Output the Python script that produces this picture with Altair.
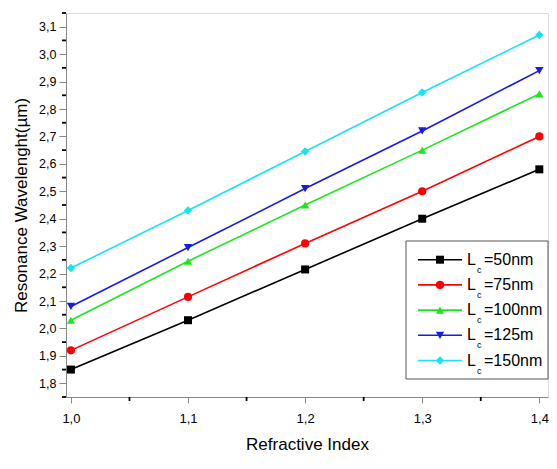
import altair as alt
import pandas as pd

# ---- data ----
refractive_index = [1.0, 1.1, 1.2, 1.3, 1.4]
series_names = ["Lc=50nm", "Lc=75nm", "Lc=100nm", "Lc=125m", "Lc=150nm"]
legend_suffix = ["=50nm", "=75nm", "=100nm", "=125m", "=150nm"]
lc50 = [1.85, 2.03, 2.215, 2.40, 2.58]
lc75 = [1.92, 2.115, 2.31, 2.50, 2.70]
lc100 = [2.03, 2.245, 2.45, 2.65, 2.855]
lc125 = [2.08, 2.295, 2.51, 2.72, 2.94]
lc150 = [2.22, 2.43, 2.645, 2.86, 3.07]
all_series = [lc50, lc75, lc100, lc125, lc150]

x_major = [1.0, 1.1, 1.2, 1.3, 1.4]
x_minor = [1.05, 1.15, 1.25, 1.35]
y_major = [1.8, 1.9, 2.0, 2.1, 2.2, 2.3, 2.4, 2.5, 2.6, 2.7, 2.8, 2.9, 3.0, 3.1]
y_minor = [1.75, 1.85, 1.95, 2.05, 2.15, 2.25, 2.35, 2.45, 2.55, 2.65, 2.75, 2.85,
           2.95, 3.05, 3.15]

rows = []
for name, vals in zip(series_names, all_series):
    for xv, yv in zip(refractive_index, vals):
        rows.append({"n": xv, "wl": yv, "series": name})
df = pd.DataFrame(rows)

colors = ["#000000", "#ff0000", "#1ee61e", "#1a1ae6", "#18e4ee"]
shapes = ["square", "circle", "triangle-up", "triangle-down", "diamond"]
sizes = [64, 72, 100, 100, 110]

color_scale = alt.Scale(domain=series_names, range=colors)
shape_scale = alt.Scale(domain=series_names, range=shapes)
size_scale = alt.Scale(domain=series_names, range=sizes)

FONT = "Liberation Sans"
W, H = 482, 384
label_expr = "replace(format(datum.value, '.1f'), '.', ',')"
xs = alt.Scale(domain=[0.9958, 0.9958 + W / 1171.0], nice=False, zero=False)
ys = alt.Scale(domain=[1.75, 3.15], nice=False, zero=False)

x_axis = alt.Axis(title="Refractive Index", values=x_major, labelExpr=label_expr,
                  grid=False, labelFlush=False, labelOverlap=False, tickSize=6,
                  labelPadding=9, labelFontSize=13, titleFontSize=17,
                  titlePadding=11, titleFontWeight="normal")
y_axis = alt.Axis(title="Resonance Wavelenght(µm)", values=y_major, labelExpr=label_expr,
                  grid=False, labelOverlap=False, labelFlush=False, tickSize=7,
                  labelPadding=3, labelFontSize=12.5, titleFontSize=17,
                  titlePadding=8, titleFontWeight="normal")

lines = alt.Chart(df).mark_line(strokeWidth=1.6).encode(
    x=alt.X("n:Q", scale=xs, axis=x_axis),
    y=alt.Y("wl:Q", scale=ys, axis=y_axis),
    color=alt.Color("series:N", scale=color_scale, legend=None),
    detail="series:N",
)
points = alt.Chart(df).mark_point(filled=True, opacity=1).encode(
    x=alt.X("n:Q", scale=xs, axis=x_axis),
    y=alt.Y("wl:Q", scale=ys, axis=y_axis),
    color=alt.Color("series:N", scale=color_scale, legend=None),
    shape=alt.Shape("series:N", scale=shape_scale, legend=None),
    size=alt.Size("series:N", scale=size_scale, legend=None),
)

# minor ticks (same scales and axis specs as the data layers)
ymin_t = alt.Chart(pd.DataFrame({"wl": y_minor})).mark_rule(color="black", strokeWidth=1.8).encode(
    y=alt.Y("wl:Q", scale=ys, axis=y_axis), x=alt.value(-4), x2=alt.value(0))
xmin_t = alt.Chart(pd.DataFrame({"n": x_minor})).mark_rule(color="black", strokeWidth=1.8).encode(
    x=alt.X("n:Q", scale=xs, axis=x_axis), y=alt.value(H), y2=alt.value(H + 4))

# ---- manual legend (for the subscript c) ----
BX0, BX1, BY0, BY1 = 340, 482, H - 156, H - 18
ROW0, ROWSTEP = H - 137.3, 25.2
one = pd.DataFrame({"k": [0]})
layers = [lines, points, ymin_t, xmin_t,
          alt.Chart(one).mark_rect(fill="white", stroke="#555555", strokeWidth=1).encode(
              x=alt.value(BX0), x2=alt.value(BX1), y=alt.value(BY0), y2=alt.value(BY1))]
for i, (name, suf) in enumerate(zip(series_names, legend_suffix)):
    ry = ROW0 + ROWSTEP * i
    row = pd.DataFrame({"series": [name], "suffix": [suf]})
    base = alt.Chart(row)
    layers.append(base.mark_rule(strokeWidth=1.6).encode(
        x=alt.value(352), x2=alt.value(396), y=alt.value(ry),
        color=alt.Color("series:N", scale=color_scale, legend=None)))
    layers.append(base.mark_point(filled=True, opacity=1).encode(
        x=alt.value(374), y=alt.value(ry),
        color=alt.Color("series:N", scale=color_scale, legend=None),
        shape=alt.Shape("series:N", scale=shape_scale, legend=None),
        size=alt.Size("series:N", scale=size_scale, legend=None)))
    layers.append(base.mark_text(align="left", baseline="middle", fontSize=16, font=FONT,
                                 color="black").encode(x=alt.value(401), y=alt.value(ry),
                                                       text=alt.value("L")))
    layers.append(base.mark_text(align="left", baseline="middle", fontSize=9, font=FONT,
                                 color="black").encode(x=alt.value(411), y=alt.value(ry + 10),
                                                       text=alt.value("c")))
    layers.append(base.mark_text(align="left", baseline="middle", fontSize=16, font=FONT,
                                 color="black").encode(x=alt.value(418), y=alt.value(ry),
                                                       text="suffix:N"))

chart = alt.layer(*layers).properties(
    width=W, height=H,
    padding={"left": 58, "top": 5, "right": 1, "bottom": 60},
    autosize=alt.AutoSizeParams(type="none"),
).configure_view(strokeWidth=0).configure_axis(
    domainColor="black", domainWidth=2, tickColor="black", tickWidth=1.8,
    labelColor="black", titleColor="black", labelFont=FONT, titleFont=FONT,
).configure(background="white")

chart.save("out.html", embed_options={"renderer": "svg", "actions": False})
